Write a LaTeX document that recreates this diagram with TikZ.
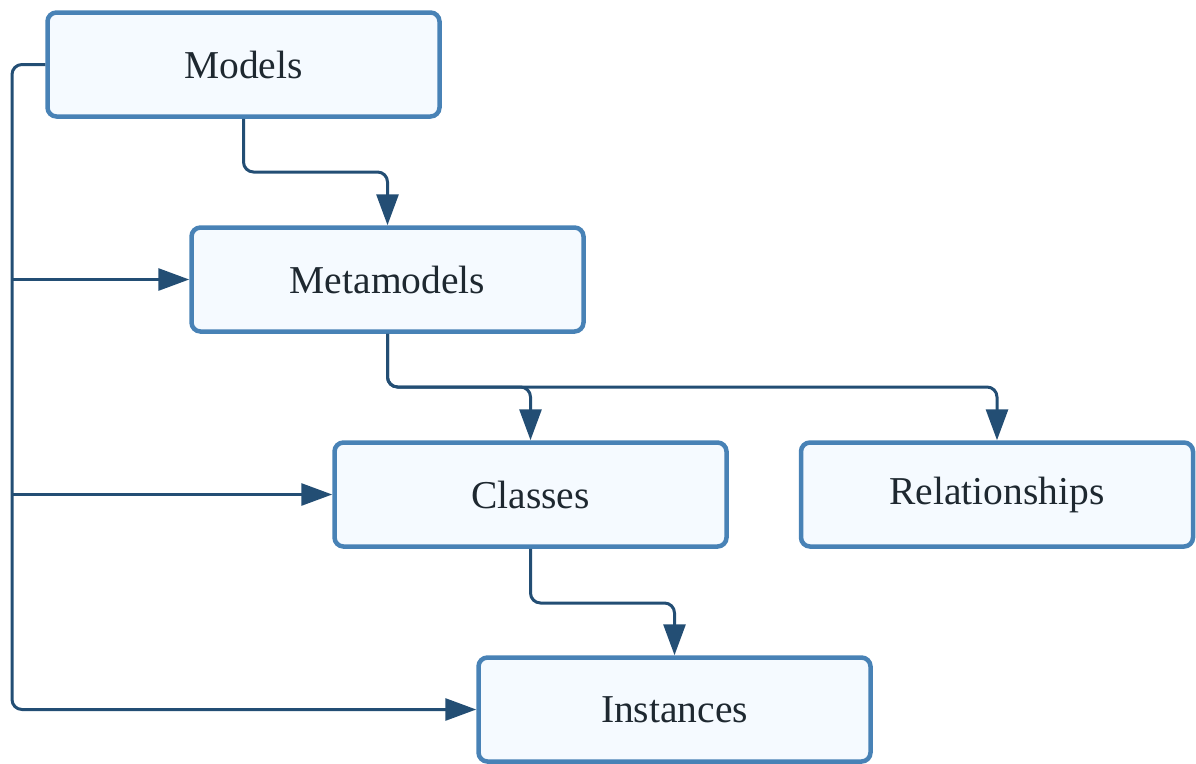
\documentclass[tikz,border=0pt]{standalone}
\usepackage{fontspec}
\setmainfont{Liberation Serif}
\usetikzlibrary{arrows.meta}
\definecolor{boxedge}{RGB}{72,130,182}
\definecolor{boxfill}{RGB}{245,250,255}
\definecolor{wire}{RGB}{35,78,116}
\definecolor{ink}{RGB}{30,40,48}
\begin{document}
\begin{tikzpicture}[x=1pt,y=-1pt,
  box/.style={draw=boxedge, fill=boxfill, line width=4.5pt, rounded corners=9pt,
    minimum width=392pt, minimum height=104pt, text=ink,
    font=\fontsize{39.5}{44}\selectfont},
  conn/.style={draw=wire, line width=3pt, rounded corners=10pt,
    -{Triangle[length=31pt,width=22pt]}}]
  \useasboundingbox (0,0) rectangle (1196,763);

  % boxes
  \node[box] (models) at (243.5,64.5)  {Models};
  \node[box] (meta)   at (387.5,279.5) {Metamodels};
  \node[box] (cls)    at (530.5,494.5) {Classes};
  \node[box] (rel)    at (997,494.5)   {Relationships};
  \node[box] (inst)   at (674.5,709.5) {Instances};

  % routing levels
  \coordinate (bus) at (12,0);
  \coordinate (lvlA) at (0,172);
  \coordinate (lvlB) at (0,387);
  \coordinate (lvlC) at (0,603);

  % Models -> Metamodels
  \draw[conn] (models.south) -- (models.south |- lvlA) -| (meta.north);
  % Metamodels -> Classes, Relationships
  \draw[conn] (meta.south) -- (meta.south |- lvlB) -| (cls.north);
  \draw[conn] (meta.south) -- (meta.south |- lvlB) -| (rel.north);
  % Classes -> Instances
  \draw[conn] (cls.south) -- (cls.south |- lvlC) -| (inst.north);

  % left bus from Models
  \draw[conn] (models.west) -- (bus |- models.west) |- (inst.west);
  \draw[conn] (bus |- meta.west) -- (meta.west);
  \draw[conn] (bus |- cls.west) -- (cls.west);
\end{tikzpicture}
\end{document}
